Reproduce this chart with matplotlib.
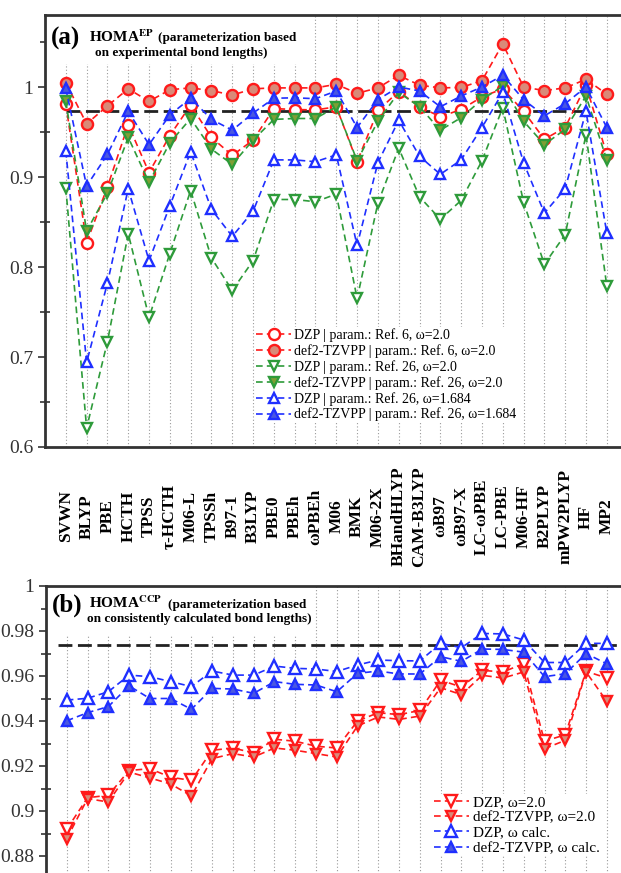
import numpy as np
import matplotlib
matplotlib.use('Agg')
import matplotlib.pyplot as plt
from matplotlib.ticker import FixedLocator, FuncFormatter
from matplotlib.patches import Rectangle

plt.rcParams['font.family'] = ['Liberation Serif', 'DejaVu Serif']
plt.rcParams['mathtext.fontset'] = 'stix'

# Functionals / methods
methods = ['SVWN', 'BLYP', 'PBE', 'HCTH', 'TPSS', 'τ-HCTH', 'M06-L', 'TPSSh', 'B97-1',
           'B3LYP', 'PBE0', 'PBEh', 'ωPBEh', 'M06', 'BMK', 'M06-2X', 'BHandHLYP',
           'CAM-B3LYP', 'ωB97', 'ωB97-X', 'LC-ωPBE', 'LC-PBE', 'M06-HF', 'B2PLYP',
           'mPW2PLYP', 'HF', 'MP2']

# (a) HOMA-EP
a_dzp_ref6 = [0.981, 0.827, 0.889, 0.958, 0.905, 0.946, 0.980, 0.944, 0.924, 0.941, 0.976,
              0.975, 0.9745, 0.978, 0.917, 0.974, 0.995, 0.978, 0.967, 0.975, 0.989, 0.998,
              0.973, 0.942, 0.955, 1.002, 0.925]
a_tz_ref6 = [1.005, 0.959, 0.979, 0.998, 0.984, 0.997, 0.999, 0.996, 0.991, 0.998, 0.999,
             0.999, 0.999, 1.003, 0.993, 0.999, 1.013, 1.002, 0.999, 0.9995, 1.007, 1.048,
             1.000, 0.996, 0.999, 1.0085, 0.992]
a_dzp_ref26 = [0.888, 0.621, 0.717, 0.837, 0.744, 0.815, 0.885, 0.810, 0.774, 0.807, 0.875,
               0.875, 0.8725, 0.881, 0.765, 0.871, 0.932, 0.878, 0.853, 0.874, 0.918, 0.977,
               0.872, 0.803, 0.836, 0.947, 0.779]
a_tz_ref26 = [0.984, 0.840, 0.882, 0.944, 0.894, 0.938, 0.965, 0.931, 0.914, 0.941, 0.964,
              0.965, 0.965, 0.978, 0.918, 0.962, 0.994, 0.978, 0.952, 0.966, 0.986, 1.001,
              0.962, 0.936, 0.953, 0.990, 0.919]
a_dzp_1684 = [0.929, 0.694, 0.782, 0.887, 0.807, 0.868, 0.928, 0.864, 0.834, 0.862, 0.919,
              0.919, 0.917, 0.9246, 0.824, 0.916, 0.963, 0.923, 0.903, 0.919, 0.955, 0.994,
              0.916, 0.860, 0.887, 0.973, 0.838]
a_tz_1684 = [0.9985, 0.890, 0.925, 0.973, 0.936, 0.969, 0.9875, 0.964, 0.952, 0.971, 0.9875,
             0.988, 0.987, 0.9956, 0.955, 0.986, 1.000, 0.9956, 0.978, 0.990, 1.000, 1.013,
             0.986, 0.968, 0.9815, 1.000, 0.955]
a_ref = 0.973

# (b) HOMA-CCP
b_dzp_20 = [0.8919, 0.9059, 0.907, 0.918, 0.9188, 0.915, 0.9136, 0.927, 0.928, 0.9258,
            0.9319, 0.931, 0.9288, 0.928, 0.940, 0.9437, 0.9428, 0.9447, 0.9581, 0.9551,
            0.9625, 0.9618, 0.9655, 0.931, 0.9339, 0.9621, 0.9591]
b_tz_20 = [0.8877, 0.9055, 0.904, 0.9173, 0.9147, 0.912, 0.9067, 0.9233, 0.9255, 0.924,
           0.928, 0.927, 0.9255, 0.924, 0.9378, 0.9418, 0.9407, 0.9422, 0.9548, 0.9517,
           0.9603, 0.9591, 0.9618, 0.9277, 0.9314, 0.9618, 0.9487]
b_dzp_calc = [0.9493, 0.9501, 0.953, 0.9604, 0.9597, 0.9575, 0.9553, 0.9622, 0.9604, 0.9604,
              0.9644, 0.9634, 0.9631, 0.962, 0.9649, 0.9671, 0.9668, 0.9667, 0.9745, 0.9726,
              0.9789, 0.9787, 0.976, 0.966, 0.966, 0.9745, 0.9745]
b_tz_calc = [0.9401, 0.9437, 0.9464, 0.9556, 0.950, 0.950, 0.9452, 0.9545, 0.9542, 0.9523,
             0.9575, 0.9563, 0.956, 0.953, 0.9612, 0.9622, 0.9609, 0.9609, 0.9686, 0.9665,
             0.972, 0.9718, 0.9706, 0.9597, 0.961, 0.970, 0.9654]
b_ref = 0.9737

RED, GREEN, BLUE = '#ff1a1a', '#2e9b3a', '#1f2fff'
RED_F, GREEN_F, BLUE_F = '#d98a78', '#7f9e34', '#4a58e0'

W, H = 621, 873
fig = plt.figure(figsize=(W / 100, H / 100), dpi=100)


def fx(x):
    return x / W


def fy(y):
    return 1 - y / H


x = np.arange(len(methods))

ax_a = fig.add_axes([fx(45), fy(447), (627.6 - 45) / W, (447 - 15) / H])
ax_b = fig.add_axes([fx(46), fy(878.5), (627.6 - 46) / W, (878.5 - 586) / H])


def style(ax):
    ax.set_xlim(-1, 27)
    ax.set_xticks(x)
    ax.set_axisbelow(True)
    ax.grid(axis='x', color='#9a9a9a', lw=0.8, ls=(0, (1, 2)))
    for s in ['left', 'top', 'bottom']:
        ax.spines[s].set_linewidth(2)
        ax.spines[s].set_color('#333333')
    ax.spines['right'].set_visible(False)
    ax.tick_params(axis='y', which='major', direction='out', length=5, width=1.2,
                   color='#333333', labelsize=14, labelcolor='#333333')
    ax.tick_params(axis='y', which='minor', direction='inout', length=7, width=1.2,
                   color='#333333')
    ax.yaxis.set_major_formatter(FuncFormatter(lambda v, p: '%g' % round(v, 4)))


def series(ax, vals, color, marker, face, ms, label):
    ax.plot(x, vals, ls='--', dashes=(4, 2.5), lw=1.2, color=color, marker=marker,
            ms=ms, mec=color, mfc=face, mew=1.7, label=label, zorder=3)


style(ax_a)
ax_a.set_ylim(0.6, 1.08)
ax_a.yaxis.set_major_locator(FixedLocator([0.6, 0.7, 0.8, 0.9, 1.0]))
ax_a.yaxis.set_minor_locator(FixedLocator([0.65, 0.75, 0.85, 0.95, 1.05]))
ax_a.set_xticklabels(methods, rotation=90, fontsize=12.5, fontweight='bold',
                     va='center', ha='center')
ax_a.tick_params(axis='x', length=0, pad=50)

ax_a.plot([x[0], x[-2]], [a_ref, a_ref], color='#222222', lw=2, dashes=(5, 2), zorder=2.5)
series(ax_a, a_dzp_ref6, RED, 'o', 'white', 8, 'DZP | param.: Ref. 6, ω=2.0')
series(ax_a, a_tz_ref6, RED, 'o', RED_F, 8, 'def2-TZVPP | param.: Ref. 6, ω=2.0')
series(ax_a, a_dzp_ref26, GREEN, 'v', 'white', 7.5, 'DZP | param.: Ref. 26, ω=2.0')
series(ax_a, a_tz_ref26, GREEN, 'v', GREEN_F, 7.5, 'def2-TZVPP | param.: Ref. 26, ω=2.0')
series(ax_a, a_dzp_1684, BLUE, '^', 'white', 7.5, 'DZP | param.: Ref. 26, ω=1.684')
series(ax_a, a_tz_1684, BLUE, '^', BLUE_F, 7.5, 'def2-TZVPP | param.: Ref. 26, ω=1.684')

ax_a.add_patch(Rectangle((fx(46), fy(64)), fx(300) - fx(46), fy(16) - fy(64),
                         transform=fig.transFigure, facecolor='white', edgecolor='none',
                         zorder=1))
leg_a = ax_a.legend(loc='upper left', bbox_to_anchor=(fx(255), fy(327)),
                    bbox_transform=fig.transFigure, fontsize=10, borderpad=0.1,
                    handlelength=2.5, handletextpad=0.2, labelspacing=0.15,
                    frameon=True, fancybox=False, framealpha=1, borderaxespad=0)
leg_a.get_frame().set_edgecolor('none')

fig.text(fx(66), fy(45), '(a)', fontsize=18, fontweight='bold', ha='center', va='baseline')
fig.text(fx(89), fy(42), r'HOMA$^{\mathbf{EP}}$', fontsize=11, fontweight='bold', va='baseline')
fig.text(fx(158), fy(41), '(parameterization based', fontsize=9.5, fontweight='bold',
         va='baseline')
fig.text(fx(95), fy(56), 'on experimental bond lengths)', fontsize=9.5, fontweight='bold',
         va='baseline')

style(ax_b)
ax_b.set_ylim(0.87, 1.0)
ax_b.yaxis.set_major_locator(FixedLocator([0.88, 0.90, 0.92, 0.94, 0.96, 0.98, 1.0]))
ax_b.yaxis.set_minor_locator(FixedLocator([0.87, 0.89, 0.91, 0.93, 0.95, 0.97, 0.99]))
ax_b.tick_params(axis='x', length=0, labelbottom=False)

ax_b.plot([-0.4, 27], [b_ref, b_ref], color='#222222', lw=2, dashes=(5, 2), zorder=2.5)
series(ax_b, b_dzp_20, RED, 'v', 'white', 8, 'DZP, ω=2.0')
series(ax_b, b_tz_20, RED, 'v', RED_F, 7.5, 'def2-TZVPP, ω=2.0')
series(ax_b, b_dzp_calc, BLUE, '^', 'white', 8, 'DZP, ω calc.')
series(ax_b, b_tz_calc, BLUE, '^', BLUE_F, 7, 'def2-TZVPP, ω calc.')

ax_b.add_patch(Rectangle((fx(47), fy(636)), fx(312) - fx(47), fy(587) - fy(636),
                         transform=fig.transFigure, facecolor='white', edgecolor='none',
                         zorder=1))
leg_b = ax_b.legend(loc='upper left', bbox_to_anchor=(fx(432), fy(794)),
                    bbox_transform=fig.transFigure, fontsize=11, borderpad=0.1,
                    handlelength=2.3, handletextpad=0.3, labelspacing=0.1,
                    frameon=True, fancybox=False, framealpha=1, borderaxespad=0)
leg_b.get_frame().set_edgecolor('none')

fig.text(fx(67), fy(612), '(b)', fontsize=18, fontweight='bold', ha='center', va='baseline')
fig.text(fx(89), fy(608), r'HOMA$^{\mathbf{CCP}}$', fontsize=11, fontweight='bold',
         va='baseline')
fig.text(fx(168), fy(608), '(parameterization based', fontsize=9.5, fontweight='bold',
         va='baseline')
fig.text(fx(87), fy(622), 'on consistently calculated bond lengths)', fontsize=9.5,
         fontweight='bold', va='baseline')

fig.savefig('out.png', dpi=100)
